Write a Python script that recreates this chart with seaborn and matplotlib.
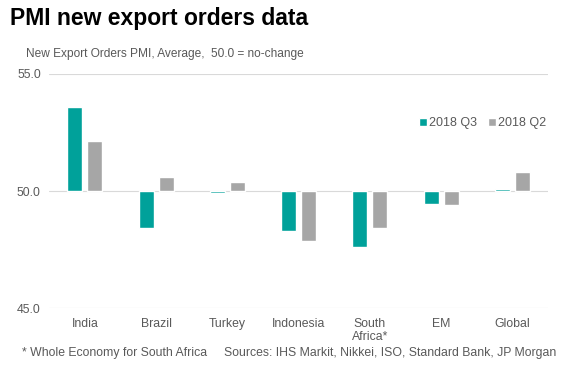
import matplotlib
matplotlib.use("Agg")
import matplotlib.pyplot as plt
import seaborn as sns
import pandas as pd
from matplotlib.ticker import FixedLocator, FuncFormatter
from matplotlib.patches import Patch

# --------------------------------------------------
# Data
# --------------------------------------------------
categories = ["India", "Brazil", "Turkey", "Indonesia", "South\nAfrica*", "EM", "Global"]
q3_values = [53.6, 48.4, 49.9, 48.3, 47.6, 49.45, 50.1]
q2_values = [52.15, 50.6, 50.4, 47.85, 48.4, 49.4, 50.8]
series_names = ["2018 Q3", "2018 Q2"]
baseline = 50.0
y_ticks = [45.0, 50.0, 55.0]

teal = "#00A19A"
grey = "#A6A6A6"
text_grey = "#595959"

df = pd.DataFrame({
    "country": categories * 2,
    "series": [series_names[0]] * len(categories) + [series_names[1]] * len(categories),
    "value": q3_values + q2_values,
})
# bars hang from the 50.0 no-change line
df["delta"] = df["value"] - baseline

sns.set_theme(style="white")
plt.rcParams["font.family"] = ["Liberation Sans", "DejaVu Sans"]

fig = plt.figure(figsize=(5.72, 3.79), dpi=100)
ax = fig.add_axes([0.086, 0.187, 0.872, 0.618])

sns.barplot(
    data=df, x="country", y="delta", hue="series",
    palette=[teal, grey], width=0.56, gap=0.25,
    saturation=1, legend=False, ax=ax
)

ax.set_xlim(-0.5, len(categories) - 0.5)
ax.set_ylim(y_ticks[0] - baseline, y_ticks[-1] - baseline)
ax.yaxis.set_major_locator(FixedLocator([t - baseline for t in y_ticks]))
ax.yaxis.set_major_formatter(FuncFormatter(lambda v, p: f"{v + baseline:.1f}"))
ax.grid(axis="y", color="#D9D9D9", linewidth=0.8)
ax.set_axisbelow(True)
for s in ax.spines.values():
    s.set_visible(False)

ax.set_xlabel("")
ax.set_ylabel("")
ax.tick_params(axis="both", length=0, labelsize=8.8, labelcolor=text_grey)
ax.tick_params(axis="y", pad=6)
ax.tick_params(axis="x", pad=7)
for lbl in ax.get_xticklabels():
    lbl.set_linespacing(1.15)

# legend
handles = [Patch(facecolor=teal), Patch(facecolor=grey)]
fig.legend(
    handles, series_names, loc="center left", bbox_to_anchor=(0.713, 0.675),
    ncol=2, frameon=False, fontsize=9, labelcolor=text_grey,
    handlelength=0.6, handleheight=0.6, handletextpad=0.2, columnspacing=0.9
)

# titles and notes
fig.text(0.017, 0.952, "PMI new export orders data", fontsize=16.5,
         fontweight="bold", color="black", va="center")
fig.text(0.045, 0.857, "New Export Orders PMI, Average,  50.0 = no-change",
         fontsize=8.6, color=text_grey, va="center")
fig.text(0.038, 0.068, "* Whole Economy for South Africa",
         fontsize=8.8, color=text_grey, va="center")
fig.text(0.392, 0.068, "Sources: IHS Markit, Nikkei, ISO, Standard Bank, JP Morgan",
         fontsize=8.8, color=text_grey, va="center")

fig.savefig("out.png", dpi=100)
